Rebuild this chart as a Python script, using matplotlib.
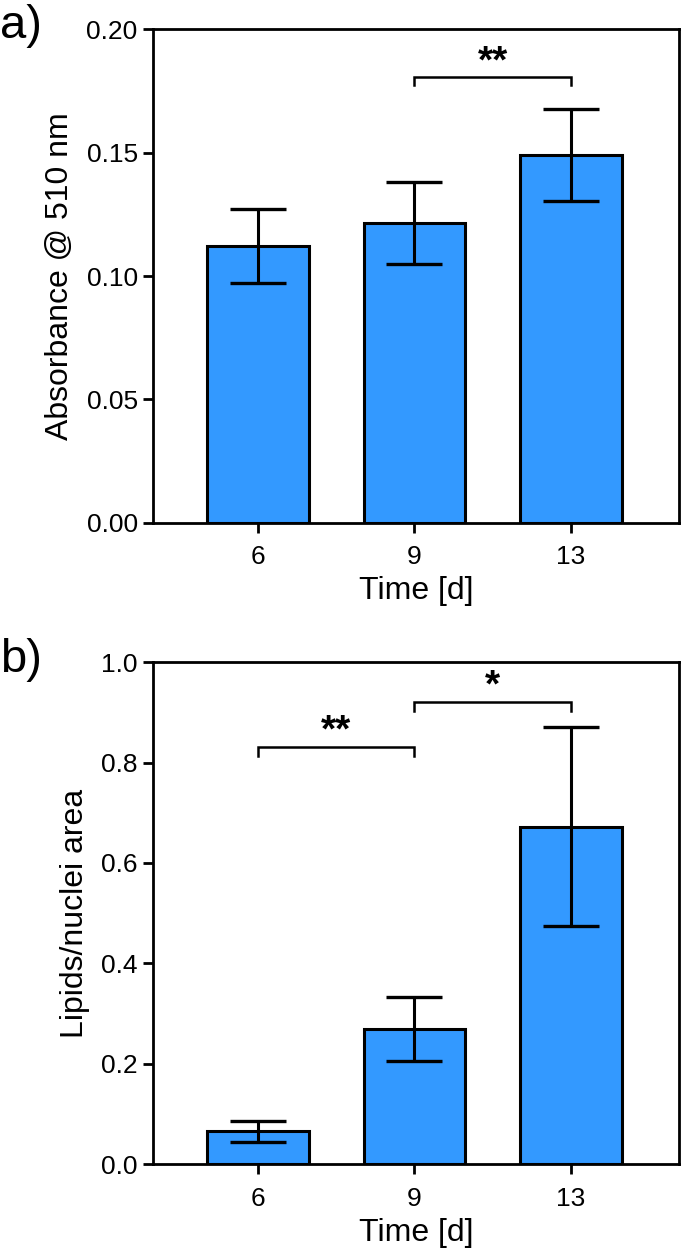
import matplotlib
matplotlib.use('Agg')
import matplotlib.pyplot as plt
import numpy as np

plt.rcParams['font.family'] = ['Liberation Sans', 'DejaVu Sans']

# data
days = ['6', '9', '13']
absorb = [0.112, 0.1215, 0.149]
absorb_err = [0.015, 0.0165, 0.0185]
lipids = [0.066, 0.270, 0.672]
lipids_err = [0.021, 0.064, 0.198]

bar_col = '#3399ff'
x = np.arange(len(days))

fig = plt.figure(figsize=(6.83, 12.52), dpi=100)
ax1 = fig.add_axes([0.224, 0.5823, 0.770, 0.3945])
ax2 = fig.add_axes([0.224, 0.0700, 0.770, 0.4012])


def draw(ax, vals, errs, ylim, yticks, fmt, ylabel):
    ax.bar(x, vals, width=0.65, color=bar_col, edgecolor='black', linewidth=2.2, zorder=2)
    ax.errorbar(x, vals, yerr=errs, fmt='none', ecolor='black', elinewidth=2.2,
                capsize=20, capthick=2.4, zorder=3)
    ax.set_xlim(-0.67, 2.69)
    ax.set_ylim(*ylim)
    ax.set_yticks(yticks)
    ax.set_yticklabels([fmt % t for t in yticks])
    ax.set_xticks(x)
    ax.set_xticklabels(days)
    for s in ax.spines.values():
        s.set_linewidth(2.0)
    ax.tick_params(width=2.0, length=7, labelsize=19, pad=4)
    ax.tick_params(axis='x', pad=9)
    ax.set_xlabel('Time [d]', fontsize=23, labelpad=5)
    ax.set_ylabel(ylabel, fontsize=23, labelpad=8)


def bracket(ax, x0, x1, y, drop, label, ty):
    ax.plot([x0, x0, x1, x1], [y - drop, y, y, y - drop], color='black', lw=1.8,
            solid_joinstyle='miter', zorder=4)
    ax.text((x0 + x1) / 2, ty, label, ha='center', va='center', fontsize=28,
            fontweight='bold')


draw(ax1, absorb, absorb_err, (0, 0.20), [0, 0.05, 0.10, 0.15, 0.20], '%.2f',
     'Absorbance @ 510 nm')
bracket(ax1, 1, 2, 0.1805, 0.003, '**', 0.1865)

draw(ax2, lipids, lipids_err, (0, 1.0), [0, 0.2, 0.4, 0.6, 0.8, 1.0], '%.1f',
     'Lipids/nuclei area')
bracket(ax2, 0, 1, 0.830, 0.017, '**', 0.862)
bracket(ax2, 1, 2, 0.920, 0.017, '*', 0.952)

fig.text(0.0, 0.979, 'a)', fontsize=34, va='center', ha='left')
fig.text(0.0, 0.473, 'b)', fontsize=34, va='center', ha='left')

fig.savefig('out.png', dpi=100)
